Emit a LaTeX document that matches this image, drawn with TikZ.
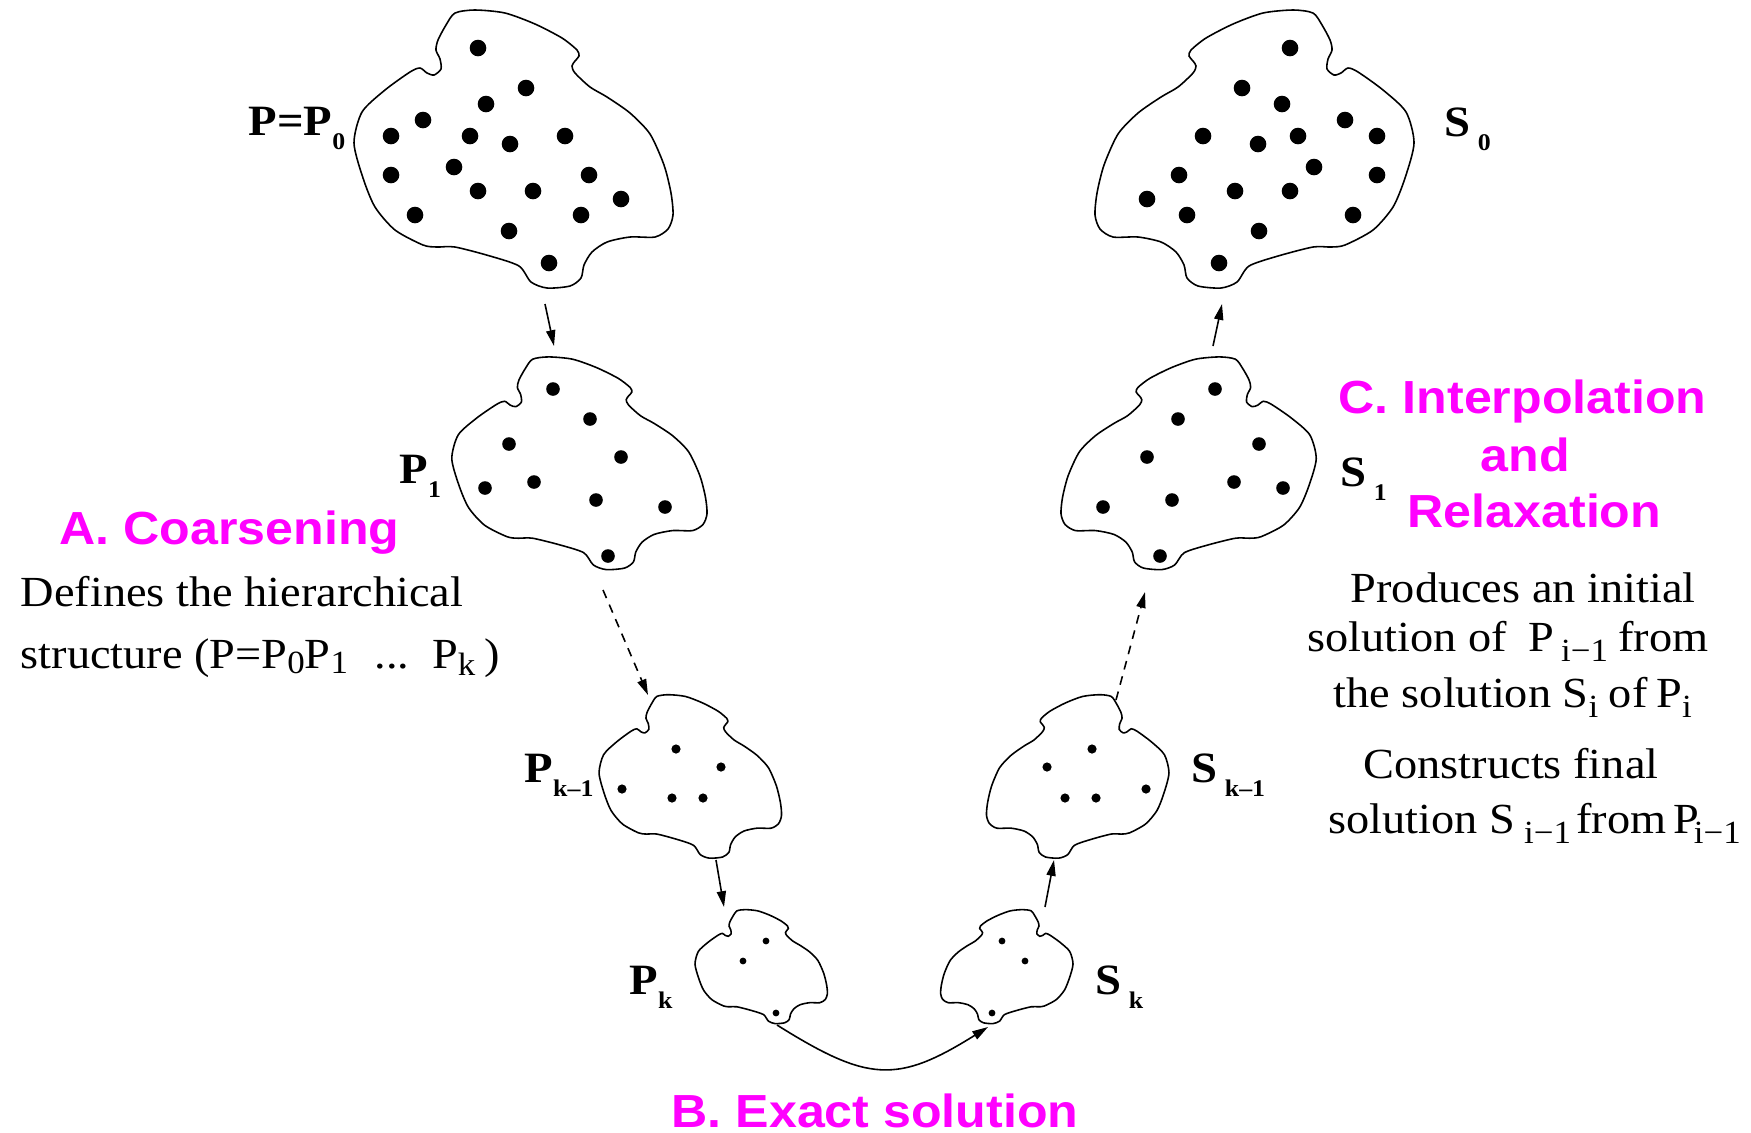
\documentclass[tikz,border=0pt]{standalone}
\usepackage{fontspec}
\setmainfont{Liberation Serif}[FakeStretch=1.08]
\newfontfamily\headfont{Liberation Sans}[FakeStretch=1.08]
\usetikzlibrary{arrows.meta}
\definecolor{headmag}{RGB}{255,0,255}

% small low indices of the labels and of the text
\newcommand\lsub[1]{\raisebox{-4pt}{\fontsize{6.8}{7}\selectfont\bfseries #1}}
\newcommand\tsub[2][3pt]{\raisebox{-#1}{\fontsize{9.2}{9.5}\selectfont #2}}

% outline of one cloud, centre (#1,#2), scaled by #3 and #4
\newcommand\cloud[4]{%
  \begin{scope}[shift={(#1,#2)}, xscale=#3, yscale=#4]
    \draw[line width=0.45pt] plot[smooth cycle, tension=0.45] coordinates {
      (-58,-137) (-38,-140) (-8,-137) (22,-126) (49,-112) (64,-100) (66,-94)
      (62,-89) (59,-84) (62,-77) (77,-63) (94,-53) (117,-37) (137,-16)
      (151,15) (158,43) (160,65) (155,79) (142,87) (117,87) (94,92) (79,102)
      (71,115) (68,128) (57,136) (34,138) (18,132) (6,116) (-23,106)
      (-58,97) (-76,97) (-90,95) (-118,80) (-138,57) (-150,28) (-159,-7)
      (-151,-38) (-128,-60) (-103,-78) (-93,-82) (-86,-77) (-79,-75)
      (-72,-81) (-73,-91) (-77,-100) (-75,-110) (-67,-125)};
  \end{scope}}

% one branch of the V: four clouds of points
\newcommand\vbranch{%
  \cloud{513}{150}{1}{1}
  \foreach \x/\y in {478/48,526/88,486/104,423/120,391/136,470/136,510/144,
      565/136,391/175,454/167,589/175,478/191,533/191,621/199,415/215,
      581/215,509/231,549/263}
    \fill (\x,\y) circle (8.3);
  \cloud{579}{464}{0.8}{0.765}
  \foreach \x/\y in {553/389,590/419,509/444,621/457,485/488,534/482,
      596/500,665/507,608/556}
    \fill (\x,\y) circle (6.8);
  \cloud{690}{777}{0.572}{0.588}
  \foreach \x/\y in {676/749,721/767,622/789,672/798,703/798}
    \fill (\x,\y) circle (4.6);
  \cloud{761}{967}{0.415}{0.41}
  \foreach \x/\y in {766/941,743/961,776/1013}
    \fill (\x,\y) circle (3.4);
}

\begin{document}
\begin{tikzpicture}[x=0.01cm, y=-0.01cm,
  arr/.style={-{Triangle[length=4.5pt,width=2.6pt]}, line width=0.45pt},
  dsh/.style={arr, dash pattern=on 2.5pt off 2pt},
  lbl/.style={anchor=base west, inner sep=0pt, font=\fontsize{12.3}{13}\selectfont\bfseries},
  head/.style={anchor=base west, inner sep=0pt, text=headmag,
    font=\headfont\bfseries\fontsize{13.2}{16}\selectfont},
  txt/.style={anchor=base west, inner sep=0pt, font=\fontsize{12.2}{14}\selectfont}]
\useasboundingbox (0,0) rectangle (1751,1132);

% P side, and the S side as its mirror image
\vbranch
\begin{scope}[xshift=17.67cm, xscale=-1]
  \vbranch
\end{scope}

\coordinate (p0out) at (545,304);
\coordinate (p1in) at (554,346);
\coordinate (p1out) at (603,590);
\coordinate (pk1in) at (648,695);
\coordinate (pk1out) at (716,860);
\coordinate (pkin) at (724,907);
\coordinate (pkout) at (777,1025);
\coordinate (skin) at (988,1027);
\coordinate (skout) at (1045,907);
\coordinate (sk1in) at (1054,860);
\coordinate (sk1out) at (1116,700);
\coordinate (s1in) at (1145,592);
\coordinate (s1out) at (1213,346);
\coordinate (s0in) at (1222,304);

\draw[arr] (p0out) -- (p1in);
\draw[dsh] (p1out) -- (pk1in);
\draw[arr] (pk1out) -- (pkin);
\draw[arr] (pkout) .. controls +(91,57) and +(-91,57) .. (skin);
\draw[arr] (skout) -- (sk1in);
\draw[dsh] (sk1out) -- (s1in);
\draw[arr] (s1out) -- (s0in);

% level labels
\node[lbl] (lp0) at (248,135) {P=P\lsub{0}};
\node[lbl] (lp1) at (399,483) {P\lsub{1}};
\node[lbl] (lpk1) at (524,782) {P\lsub{k–1}};
\node[lbl] (lpk) at (629,994) {P\lsub{k}};
\node[lbl] (ls0) at (1444,136) {S\,\lsub{0}};
\node[lbl] (ls1) at (1340,486) {S\,\lsub{1}};
\node[lbl] (lsk1) at (1191,782) {S\,\lsub{k–1}};
\node[lbl] (lsk) at (1095,994) {S\,\lsub{k}};

% phases
\node[head] (hA) at (59,544) {A. Coarsening};
\node[head] (hB) at (671,1127) {B. Exact solution};
\node[head] (hC1) at (1338,413) {C. Interpolation};
\node[head] (hC2) at (1480,471) {and};
\node[head] (hC3) at (1407,527) {Relaxation};

\node[txt] (ta1) at (20,606) {Defines the hierarchical};
\node[txt] (ta2) at (20,668) {structure (P=P\tsub[1.5pt]{0}P\tsub[1.5pt]{1}\hspace{7.5pt}...\hspace{6.5pt}P\tsub[2pt]{k}\hspace{2.5pt})};
\node[txt] (tc1) at (1350,602) {Produces an initial};
\node[txt] (tc2) at (1307,651) {solution of\hspace{6pt}P\hspace{2pt}\tsub{i−1}\hspace{3pt}from};
\node[txt] (tc3) at (1333,707) {the solution S\tsub{i}\hspace{3pt}of\hspace{2.5pt}P\tsub{i}};
\node[txt] (tc4) at (1363,778) {Constructs final};
\node[txt] (tc5) at (1328,833) {solution S\hspace{2.5pt}\tsub{i−1}\hspace{1.5pt}from\hspace{2pt}P\hspace{-1.5pt}\tsub{i−1}};
\end{tikzpicture}
\end{document}
